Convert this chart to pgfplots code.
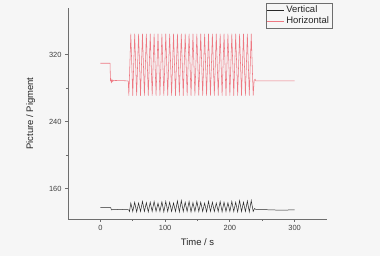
\documentclass[border=0pt]{standalone}
\usepackage{pgfplots}
\pgfplotsset{compat=1.18}
\usepackage{fontspec}
\setmainfont{Liberation Sans}
\usetikzlibrary{backgrounds}
\definecolor{bgc}{RGB}{246,246,246}
\definecolor{axc}{RGB}{110,110,110}
\definecolor{redc}{RGB}{238,120,130}
\definecolor{blkc}{RGB}{40,40,40}
\begin{document}
\begin{tikzpicture}[x=1bp,y=1bp]
\begin{axis}[
  at={(68bp,37bp)}, anchor=south west,
  scale only axis, width=259bp, height=211bp,
  xmin=-50, xmax=350, ymin=124, ymax=376,
  axis x line*=bottom, axis y line*=left,
  axis line style={axc, line width=0.9pt},
  xtick={0,100,200,300}, ytick={160,240,320},
  minor x tick num=1, minor y tick num=1,
  tick align=outside,
  major tick length=3bp, minor tick length=2bp,
  tick style={axc, line width=0.8pt},
  ticklabel style={font=\fontsize{7.5}{8}\selectfont, text=black!75},
  /pgf/number format/assume math mode=true,
  xlabel={Time / s}, ylabel={Picture / Pigment},
  label style={font=\fontsize{9.5}{11}\selectfont, text=black!85},
  xlabel style={yshift=-1bp},
  ylabel style={yshift=7bp},
  legend style={at={(rel axis cs:1.019,1.024)}, anchor=north east,
    draw=axc, fill=none, font=\fontsize{9.5}{10}\selectfont, text=black!85,
    inner sep=0.8bp, row sep=-1.5bp},
  legend cell align=left,
  legend image code/.code={\draw[#1] (0bp,0bp) -- (17bp,0bp);},
]
\addplot[blkc, line width=0.5pt] coordinates {
(0,137.5)(16,137.5)(17,135)(30,135.5)(44,135)
(45,133)(47,143)(50,133)(53,144)(56,132.5)(59,143)(62,133)(65,145)(68,133)(71,143.5)(74,132.5)(77,144)(80,133)(83,145)(86,133)(89,143)(92,133)(95,144.5)(98,132.5)(101,145)(104,133)(107,144)(110,133)(113,143)(116,133)(119,145.5)(122,132.5)(125,146)(128,133)(131,144)(134,133)(137,145)(140,132.5)(143,143.5)(146,133)(149,145)(152,133)(155,144)(158,133)(161,143)(164,132.5)(167,145)(170,133)(173,144)(176,133)(179,143)(182,133)(185,145)(188,132.5)(191,144)(194,133)(197,143.5)(200,133)(203,145)(206,133)(209,144)(212,132.5)(215,146)(218,133)(221,144)(224,133)(227,145.5)(230,132.5)(233,146)(236,133)
(238,136.5)(240,135.5)(260,135)(280,134.5)(300,135)
};
\addlegendentry{Vertical}
\addplot[redc, line width=0.55pt, line join=round] coordinates {
(0,310)(15,310)(15.5,289)(16,292)(17,286.5)(18,290.5)(19,288)(20,289.5)(43,289)
(44,271.5)(47,345)(50,271.5)(53,345)(56,271.5)(59,345)(62,271.5)(65,345)(68,271.5)(71,345)(74,271.5)(77,345)(80,271.5)(83,345)(86,271.5)(89,345)(92,271.5)(95,345)(98,271.5)(101,345)(104,271.5)(107,345)(110,271.5)(113,345)(116,271.5)(119,345)(122,271.5)(125,345)(128,271.5)(131,345)(134,271.5)(137,345)(140,271.5)(143,345)(146,271.5)(149,345)(152,271.5)(155,345)(158,271.5)(161,345)(164,271.5)(167,345)(170,271.5)(173,345)(176,271.5)(179,345)(182,271.5)(185,345)(188,271.5)(191,345)(194,271.5)(197,345)(200,271.5)(203,345)(206,271.5)(209,345)(212,271.5)(215,345)(218,271.5)(221,345)(224,271.5)(227,345)(230,271.5)(233,345)(236,271.5)
(237.5,289.5)(239,291)(240,289)(300,289)
};
\addlegendentry{Horizontal}
\end{axis}
\pgfresetboundingbox
\path[use as bounding box] (0bp,0bp) rectangle (380bp,256bp);
\begin{scope}[on background layer]
\fill[bgc] (0bp,0bp) rectangle (380bp,256bp);
\end{scope}
\end{tikzpicture}
\end{document}
